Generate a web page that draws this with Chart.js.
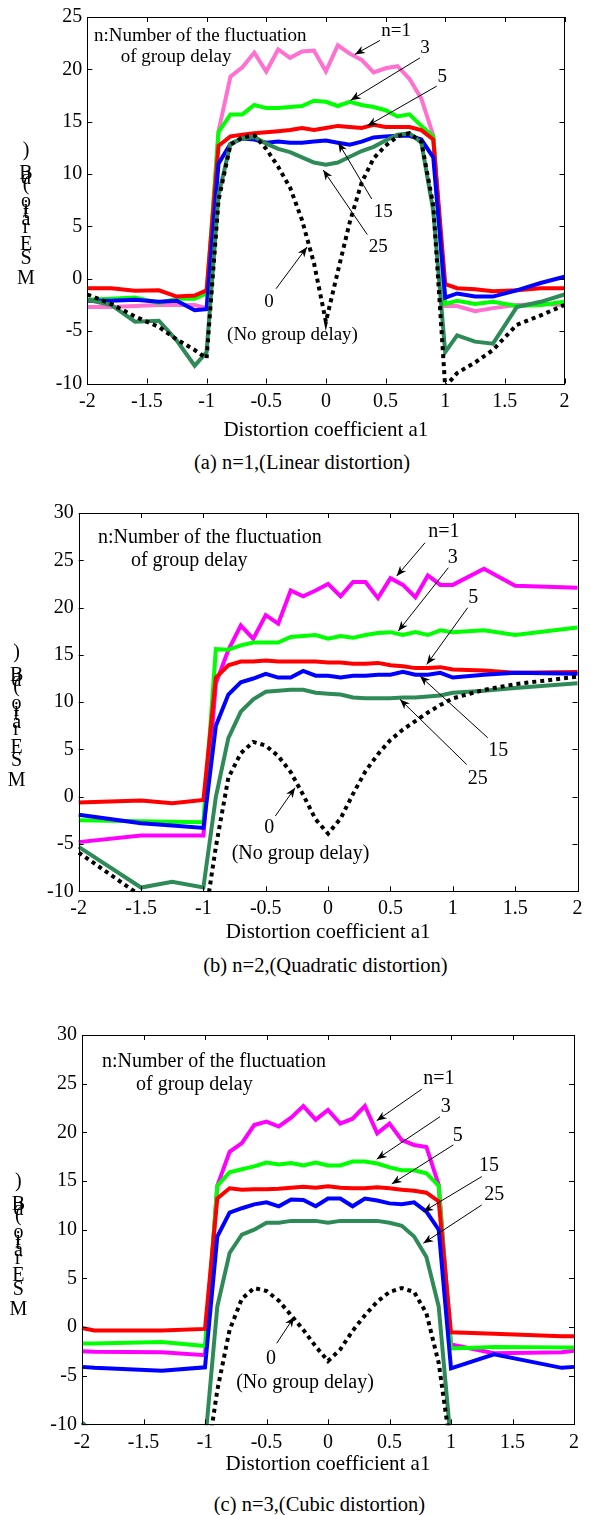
<!DOCTYPE html>
<html><head><meta charset="utf-8">
<script src="https://cdn.jsdelivr.net/npm/chart.js@4.4.0/dist/chart.umd.min.js"></script>
<style>
html,body{margin:0;padding:0;background:#fff;}
body{width:591px;height:1515px;position:relative;overflow:hidden;font-family:"Liberation Serif","Times New Roman",serif;color:#000;}
.wrap{position:absolute;left:0;}
.cap{position:absolute;font-size:20.5px;line-height:24px;white-space:nowrap;transform:translateX(-50%);}
.ych{position:absolute;font-size:20px;line-height:20px;transform:translate(-50%,-50%);}
</style></head><body>
<div class="wrap" style="top:0px"><canvas id="ca" width="591" height="450"></canvas></div>
<div class="wrap" style="top:490px"><canvas id="cb" width="591" height="460"></canvas></div>
<div class="wrap" style="top:1010px"><canvas id="cc" width="591" height="475"></canvas></div>
<div class="cap" style="left:302px;top:450px">(a) n=1,(Linear distortion)</div>
<div class="cap" style="left:325.5px;top:953px">(b) n=2,(Quadratic distortion)</div>
<div class="cap" style="left:319.5px;top:1492px">(c) n=3,(Cubic distortion)</div>
<script>
// ---------- tick labels ----------
const xTicks = [-2, -1.5, -1, -0.5, 0, 0.5, 1, 1.5, 2];
const yTicksA = [-10, -5, 0, 5, 10, 15, 20, 25];
const yTicksBC = [-10, -5, 0, 5, 10, 15, 20, 25, 30];
const seriesNames = ['n=1', 'n=3', 'n=5', 'n=15', 'n=25', 'n=0 (No group delay)'];

// ---------- (a) linear distortion ----------
const xA = [-2, -1.8, -1.6, -1.4, -1.25, -1.1, -1, -0.9, -0.8, -0.7, -0.6, -0.5, -0.4, -0.3, -0.2, -0.1, 0, 0.1, 0.2, 0.3, 0.4, 0.5, 0.6, 0.7, 0.8, 0.9, 1, 1.1, 1.25, 1.4, 1.6, 1.8, 2];
const a_n1  = [-2.7, -2.7, -2.6, -2.5, -2.5, -2.5, -2.8, 14.1, 19.3, 20.2, 21.6, 19.8, 21.9, 21.1, 21.7, 21.8, 19.8, 22.3, 21.5, 20.9, 19.7, 20.1, 20.3, 19.1, 17.2, 13.7, -2.6, -2.6, -3.1, -2.8, -2.5, -2.4, -2.5];
const a_n3  = [-2.0, -1.9, -1.8, -2.3, -1.9, -1.9, -1.4, 14.0, 15.7, 15.7, 16.6, 16.3, 16.3, 16.4, 16.5, 17.0, 16.9, 16.5, 16.9, 16.6, 16.4, 16.1, 15.5, 15.7, 14.6, 13.6, -2.4, -2.1, -2.4, -2.2, -2.6, -2.5, -2.2];
const a_n5  = [-0.9, -0.9, -1.15, -1.1, -1.7, -1.6, -1.1, 12.7, 13.6, 13.75, 13.9, 14.0, 14.1, 14.2, 14.4, 14.2, 14.4, 14.6, 14.5, 14.4, 14.7, 14.5, 14.5, 14.5, 14.2, 13.3, -0.5, -0.9, -1.0, -1.2, -1.1, -0.9, -0.9];
const a_n15 = [-2.1, -2.1, -2.0, -2.2, -2.1, -3.0, -2.9, 11.0, 12.9, 13.4, 13.3, 13.0, 13.1, 13.0, 13.0, 13.1, 13.2, 13.0, 12.8, 13.1, 13.5, 13.6, 13.65, 13.65, 13.3, 11.6, -1.8, -1.4, -1.7, -1.7, -1.1, -0.4, 0.2];
const a_n25 = [-2.0, -2.5, -4.1, -4.0, -5.9, -8.3, -7.0, 8.0, 12.9, 13.4, 13.55, 12.9, 12.4, 12.1, 11.6, 11.1, 10.9, 11.1, 11.65, 12.2, 12.6, 13.2, 13.75, 13.9, 13.0, 6.5, -7.0, -5.4, -6.0, -6.2, -2.7, -2.2, -1.5];
const a_n0  = [-1.5, -2.4, -3.6, -4.6, -5.8, -6.8, -7.6, 7.5, 12.8, 13.5, 13.7, 12.4, 10.7, 8.7, 5.6, 1.5, -4.1, 0.7, 5.4, 9.2, 11.5, 12.7, 13.6, 13.9, 13.1, 7.0, -10.3, -9.0, -8.0, -6.8, -4.4, -3.5, -2.5];

// ---------- (b) quadratic distortion ----------
const xB = [-2, -1.5, -1.25, -1, -0.9, -0.8, -0.7, -0.6, -0.5, -0.4, -0.3, -0.2, -0.1, 0, 0.1, 0.2, 0.3, 0.4, 0.5, 0.6, 0.7, 0.8, 0.9, 1, 1.25, 1.5, 2];
const b_n1  = [-4.8, -4.1, -4.1, -4.1, 12.0, 15.5, 18.1, 16.7, 19.2, 18.3, 21.8, 21.2, 21.8, 22.5, 21.2, 22.7, 22.7, 21.0, 23.1, 22.4, 21.1, 23.4, 22.4, 22.4, 24.1, 22.3, 22.1];
const b_n3  = [-2.5, -2.6, -2.65, -2.7, 15.6, 15.55, 16.0, 16.3, 16.3, 16.3, 16.9, 17.0, 17.1, 16.7, 17.0, 16.8, 17.1, 17.3, 17.4, 17.1, 17.4, 17.1, 17.6, 17.4, 17.6, 17.1, 17.9];
const b_n5  = [-0.6, -0.4, -0.7, -0.35, 12.6, 13.9, 14.3, 14.3, 14.4, 14.3, 14.3, 14.3, 14.3, 14.2, 14.2, 14.05, 14.05, 14.15, 13.9, 13.8, 13.6, 13.6, 13.7, 13.45, 13.35, 13.1, 13.2];
const b_n15 = [-1.9, -2.8, -3.05, -3.3, 7.5, 10.8, 12.1, 12.5, 13.0, 12.6, 12.6, 13.3, 12.8, 12.8, 12.6, 12.8, 12.8, 12.9, 12.9, 13.2, 12.9, 12.9, 13.1, 12.6, 12.9, 13.1, 13.0];
const b_n25 = [-5.3, -9.6, -9.0, -9.6, 0.0, 6.2, 9.0, 10.3, 11.1, 11.2, 11.3, 11.3, 11.0, 10.9, 10.8, 10.5, 10.4, 10.4, 10.4, 10.5, 10.5, 10.6, 10.7, 11.0, 11.2, 11.5, 12.0];
const b_n0  = [-5.9, -10.5, -12, -14, -5.3, 2.0, 4.6, 5.8, 5.4, 4.3, 2.6, 0.2, -2.4, -3.9, -2.3, 0.3, 2.7, 4.5, 6.0, 7.1, 8.0, 8.9, 9.7, 10.4, 11.3, 11.9, 12.7];

// ---------- (c) cubic distortion ----------
const xC = [-2, -1.9, -1.35, -1, -0.9, -0.8, -0.7, -0.6, -0.5, -0.4, -0.3, -0.2, -0.1, 0, 0.1, 0.2, 0.3, 0.4, 0.5, 0.6, 0.7, 0.8, 0.9, 1, 1.35, 1.9, 2];
const c_n1  = [-2.5, -2.55, -2.6, -2.9, 14.5, 18.0, 18.9, 20.75, 21.1, 20.6, 21.5, 22.7, 21.3, 22.3, 20.9, 21.4, 22.7, 19.9, 20.9, 19.2, 18.7, 18.5, 14.6, -1.8, -2.7, -2.6, -2.45];
const c_n3  = [-1.7, -1.7, -1.55, -1.95, 14.5, 15.9, 16.2, 16.5, 16.9, 16.7, 16.85, 16.6, 16.9, 16.6, 16.6, 17.0, 17.0, 16.8, 16.4, 16.1, 16.1, 15.8, 14.5, -2.2, -2.05, -2.1, -2.1];
const c_n5  = [-0.1, -0.35, -0.35, -0.2, 13.2, 14.25, 14.1, 14.15, 14.15, 14.2, 14.3, 14.4, 14.3, 14.45, 14.3, 14.25, 14.25, 14.35, 14.25, 14.1, 14.0, 13.8, 12.9, -0.55, -0.7, -0.95, -0.95];
const c_n15 = [-4.1, -4.2, -4.5, -4.15, 9.3, 11.75, 12.2, 12.6, 12.8, 12.4, 13.1, 13.05, 12.4, 13.2, 13.2, 12.4, 13.2, 13.0, 12.7, 12.6, 12.8, 11.85, 10.0, -4.25, -2.8, -4.2, -4.1];
const c_n25 = [-9.8, -11, -11, -12, 2.1, 7.6, 9.5, 10.0, 10.7, 10.7, 10.9, 10.9, 10.9, 10.7, 10.9, 10.9, 10.9, 10.9, 10.7, 10.4, 9.3, 7.2, 2.1, -12, -12, -12, -12];
const c_n0  = [-15, -15, -15, -15, -6.5, -0.3, 2.9, 4.0, 3.7, 2.7, 1.2, -0.3, -2.0, -3.5, -2.3, -0.4, 1.2, 2.6, 3.6, 4.0, 3.6, 1.4, -3.7, -12.7, -15, -15, -15];

// ---------- styling ----------
const FONT = '"Liberation Serif", "Times New Roman", serif';
const DARKGREEN = '#2e8b57';

function styleSet(pink) {
  // top-most first (Chart.js draws dataset 0 last)
  return [
    {color: '#000000', dash: [4, 4], idx: 5},
    {color: DARKGREEN, dash: [], idx: 4},
    {color: '#0000ff', dash: [], idx: 3},
    {color: '#ff0000', dash: [], idx: 2},
    {color: '#00ff00', dash: [], idx: 1},
    {color: pink, dash: [], idx: 0}
  ];
}

function drawArrow(ctx, x1, y1, x2, y2) {
  ctx.beginPath(); ctx.moveTo(x1, y1); ctx.lineTo(x2, y2); ctx.lineWidth = 1; ctx.stroke();
  const a = Math.atan2(y2 - y1, x2 - x1), L = 10, W = 4, N = 7;
  const cx = Math.cos(a), sx = Math.sin(a);
  const bx = x2 - L * cx, by = y2 - L * sx;
  ctx.beginPath(); ctx.moveTo(x2, y2);
  ctx.lineTo(bx - W * sx, by + W * cx);
  ctx.lineTo(x2 - N * cx, y2 - N * sx);
  ctx.lineTo(bx + W * sx, by - W * cx);
  ctx.closePath(); ctx.fill();
}

const framePlugin = {
  id: 'frame',
  afterDatasetsDraw(chart, args, opts) {
    const {ctx, chartArea, scales} = chart;
    const {left, right, top, bottom} = chartArea;
    const x = scales.x, y = scales.y;
    ctx.save();
    ctx.strokeStyle = '#000'; ctx.fillStyle = '#000'; ctx.lineWidth = 1;
    ctx.strokeRect(Math.round(left) + 0.5, Math.round(top) + 0.5, Math.round(right - left), Math.round(bottom - top));
    const T = 5;
    ctx.beginPath();
    x.ticks.forEach(t => {
      const px = Math.round(x.getPixelForValue(t.value)) + 0.5;
      ctx.moveTo(px, bottom); ctx.lineTo(px, bottom - T);
      ctx.moveTo(px, top); ctx.lineTo(px, top + T);
    });
    y.ticks.forEach(t => {
      const py = Math.round(y.getPixelForValue(t.value)) + 0.5;
      ctx.moveTo(left, py); ctx.lineTo(left + T, py);
      ctx.moveTo(right, py); ctx.lineTo(right - T, py);
    });
    ctx.stroke();
    const ann = opts.ann;
    ann.arrows.forEach(a => {
      drawArrow(ctx, x.getPixelForValue(a[0]), y.getPixelForValue(a[1]), x.getPixelForValue(a[2]), y.getPixelForValue(a[3]));
    });
    ctx.font = ann.size + 'px ' + FONT;
    ctx.textBaseline = 'middle';
    ann.texts.forEach(t => {
      ctx.textAlign = t.align || 'center';
      ctx.fillText(t.t, x.getPixelForValue(t.x), y.getPixelForValue(t.y));
    });
    ctx.restore();
  }
};

function makeChart(id, xs, series, pink, yMin, yMax, yTicks, L, ann) {
  const styles = styleSet(pink);
  const datasets = styles.map(s => ({
    label: seriesNames[s.idx],
    data: xs.map((xv, i) => ({x: xv, y: series[s.idx][i]})),
    borderColor: s.color,
    backgroundColor: s.color,
    borderWidth: 4,
    borderDash: s.dash,
    borderCapStyle: 'butt',
    borderJoinStyle: 'miter',
    pointRadius: 0,
    tension: 0,
    fill: false,
    clip: 1
  }));
  return new Chart(document.getElementById(id), {
    type: 'line',
    data: {datasets},
    options: {
      responsive: false, animation: false, devicePixelRatio: 1, events: [],
      layout: {padding: {left: 0, right: L.rpad, top: L.top, bottom: 0}},
      plugins: {legend: {display: false}, tooltip: {enabled: false}, frame: {ann}},
      scales: {
        x: {
          type: 'linear', min: -2, max: 2,
          afterBuildTicks: s => { s.ticks = xTicks.map(v => ({value: v})); },
          afterFit: s => { s.height = L.xh; },
          grid: {display: false, drawTicks: false}, border: {display: false},
          ticks: {color: '#000', font: {family: FONT, size: 20}, padding: L.xpad, maxRotation: 0, autoSkip: false,
                  callback: v => String(v)},
          title: {display: true, text: 'Distortion coefficient a1', color: '#000', font: {family: FONT, size: 21}, padding: {top: 0, bottom: L.tpad}}
        },
        y: {
          type: 'linear', min: yMin, max: yMax,
          afterBuildTicks: s => { s.ticks = yTicks.map(v => ({value: v})); },
          afterFit: s => { s.width = L.left; },
          grid: {display: false, drawTicks: false}, border: {display: false},
          ticks: {color: '#000', font: {family: FONT, size: 20}, padding: 5, callback: v => String(v)}
        }
      }
    },
    plugins: [framePlugin]
  });
}

const annA = {size: 19,
  texts: [
    {t: 'n:Number of the fluctuation', x: -1.944, y: 23.17, align: 'left'},
    {t: 'of group delay', x: -1.72, y: 21.17, align: 'left'},
    {t: 'n=1', x: 0.588, y: 23.65}, {t: '3', x: 0.831, y: 22.06}, {t: '5', x: 0.976, y: 19.27},
    {t: '15', x: 0.481, y: 6.34}, {t: '25', x: 0.439, y: 3.0}, {t: '0', x: -0.477, y: -2.23},
    {t: '(No group delay)', x: -0.28, y: -5.4}
  ],
  arrows: [[0.453, 22.76, 0.243, 21.43], [0.789, 21.1, 0.208, 17.05], [0.929, 18.4, 0.347, 14.6],
           [0.384, 7.62, 0.104, 13.0], [0.347, 4.22, -0.022, 10.38], [-0.418, -0.95, -0.158, 3.03]]
};
const annB = {size: 20,
  texts: [
    {t: 'n:Number of the fluctuation', x: -1.845, y: 27.38, align: 'left'},
    {t: 'of group delay', x: -1.581, y: 24.92, align: 'left'},
    {t: 'n=1', x: 0.929, y: 28.01}, {t: '3', x: 0.999, y: 25.26}, {t: '5', x: 1.164, y: 21.04},
    {t: '15', x: 1.365, y: 4.83}, {t: '25', x: 1.2, y: 1.93}, {t: '0', x: -0.472, y: -3.28},
    {t: '(No group delay)', x: -0.221, y: -6.08}
  ],
  arrows: [[0.777, 26.85, 0.55, 23.33], [0.964, 24.21, 0.563, 17.52], [1.119, 19.98, 0.791, 13.99],
           [1.28, 6.24, 0.737, 12.76], [1.111, 3.41, 0.577, 10.29], [-0.423, -2.04, -0.265, 0.95]]
};
const annC = {size: 20,
  texts: [
    {t: 'n:Number of the fluctuation', x: -1.837, y: 27.27, align: 'left'},
    {t: 'of group delay', x: -1.561, y: 24.87, align: 'left'},
    {t: 'n=1', x: 0.902, y: 25.46}, {t: '3', x: 0.957, y: 22.64}, {t: '5', x: 1.054, y: 19.63},
    {t: '15', x: 1.309, y: 16.55}, {t: '25', x: 1.352, y: 13.57}, {t: '0', x: -0.463, y: -3.22},
    {t: '(No group delay)', x: -0.187, y: -5.76}
  ],
  arrows: [[0.762, 24.43, 0.396, 21.2], [0.911, 21.61, 0.396, 17.24], [1.019, 18.71, 0.518, 14.7],
           [1.25, 15.45, 0.775, 11.85], [1.25, 12.54, 0.775, 8.6], [-0.417, -1.68, -0.276, 1.03]]
};

makeChart('ca', xA, [a_n1, a_n3, a_n5, a_n15, a_n25, a_n0], '#ff70d0', -10, 25, yTicksA,
  {left: 87.3, rpad: 26.5, top: 15.8, xh: 66.5, xpad: 6, tpad: 7}, annA);
makeChart('cb', xB, [b_n1, b_n3, b_n5, b_n15, b_n25, b_n0], '#ff00ff', -10, 30, yTicksBC,
  {left: 78.7, rpad: 13.5, top: 23, xh: 58.7, xpad: 5.5, tpad: 5}, annB);
makeChart('cc', xC, [c_n1, c_n3, c_n5, c_n15, c_n25, c_n0], '#ff00ff', -10, 30, yTicksBC,
  {left: 82, rpad: 17, top: 25, xh: 60.7, xpad: 6, tpad: 8}, annC);

// garbled vertical y-axis label (characters stacked upright, bottom to top)
const yLabelChars = ['M', 'S', 'E', 'r', 'a', 't', 'i', 'o', '(', 'd', 'B', ')'];
const yLabelOffsets = [0, -20, -33.5, -51, -58.5, -66, -70, -77, -94, -100, -105, -128];
[[26, 276.7], [16.6, 779], [18.4, 1307.5]].forEach(([cx, cy]) => {
  yLabelChars.forEach((ch, i) => {
    const d = document.createElement('div');
    d.className = 'ych';
    d.textContent = ch;
    d.style.left = cx + 'px';
    d.style.top = (cy + yLabelOffsets[i]) + 'px';
    document.body.appendChild(d);
  });
});
</script>
</body></html>
